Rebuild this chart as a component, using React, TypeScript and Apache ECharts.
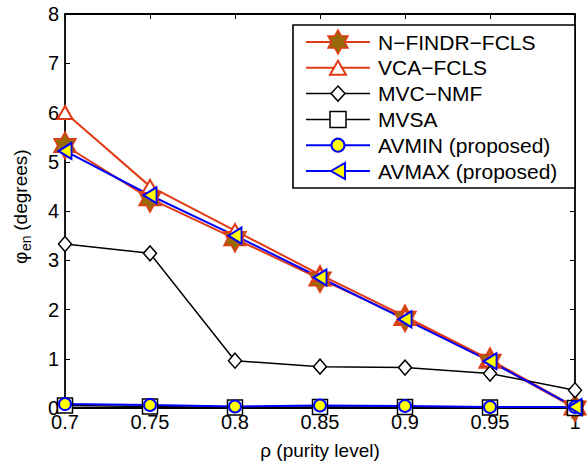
import React, { useEffect, useRef } from 'react';
import * as echarts from 'echarts';

const FONT = "'Liberation Sans', Arial, Helvetica, sans-serif";

const purity = [0.7, 0.75, 0.8, 0.85, 0.9, 0.95, 1.0];
const nfindrFcls = [5.33, 4.25, 3.44, 2.62, 1.82, 0.95, 0.0];
const vcaFcls = [6.0, 4.5, 3.6, 2.71, 1.86, 0.98, 0.02];
const mvcNmf = [3.33, 3.14, 0.96, 0.84, 0.82, 0.7, 0.36];
const mvsa = [0.05, 0.03, 0.01, 0.02, 0.02, 0.01, 0.0];
const avmin = [0.08, 0.06, 0.03, 0.05, 0.04, 0.02, 0.02];
const avmax = [5.22, 4.32, 3.5, 2.65, 1.8, 0.95, 0.02];

const seriesNames = [
  'N\u2212FINDR\u2212FCLS',
  'VCA\u2212FCLS',
  'MVC\u2212NMF',
  'MVSA',
  'AVMIN (proposed)',
  'AVMAX (proposed)',
];

const RED = '#E23A14';
const STAR_FILL = '#9A6A0A';
const BLUE = '#0000FF';
const YELLOW = '#FFFF00';

const HEX_PATH =
  'path://M0,-1 L0.2887,-0.5 L0.866,-0.5 L0.5774,0 L0.866,0.5 L0.2887,0.5 L0,1 L-0.2887,0.5 L-0.866,0.5 L-0.5774,0 L-0.866,-0.5 L-0.2887,-0.5 Z';

function pairs(ys: number[]) {
  return purity.map((x, i) => [x, ys[i]]);
}

function hexPoints(cx: number, cy: number, hw: number, hh: number) {
  const pts: number[][] = [];
  for (let k = 0; k < 12; k++) {
    const a = ((-90 + 30 * k) * Math.PI) / 180;
    const r = k % 2 === 0 ? 1 : 0.57735;
    pts.push([cx + (Math.cos(a) * r * hw) / 0.866, cy + Math.sin(a) * r * hh]);
  }
  return pts;
}

export default function App() {
  const ref = useRef<HTMLDivElement>(null);

  useEffect(() => {
    if (!ref.current) return;
    const chart = echarts.init(ref.current, undefined, { renderer: 'svg' });

    const mk = (
      name: string,
      ys: number[],
      color: string,
      lw: number,
      symbol: string,
      size: number | number[],
      fill: string,
      border: string,
      bw: number,
      rotate = 0
    ) => ({
      name,
      type: 'line',
      data: pairs(ys),
      symbol,
      symbolSize: size,
      symbolRotate: rotate,
      showAllSymbol: true,
      lineStyle: { color, width: lw },
      itemStyle: { color: fill, borderColor: border, borderWidth: bw },
      emphasis: { disabled: true },
      z: 3,
    });

    // legend graphic
    const lx0 = 306;
    const lx1 = 370;
    const lcx = 338;
    const rowY = (i: number) => 42 + i * 25.8;
    const legendEls: any[] = [
      {
        type: 'rect',
        shape: { x: 293, y: 25, width: 282, height: 163 },
        style: { fill: '#fff', stroke: '#000', lineWidth: 1.6 },
        z: 100,
      },
    ];
    const lineCols = [RED, RED, '#000', '#000', BLUE, BLUE];
    const lineW = [2, 2, 1.5, 1.5, 2, 2];
    seriesNames.forEach((n, i) => {
      const y = rowY(i);
      legendEls.push({
        type: 'line',
        shape: { x1: lx0, y1: y, x2: lx1, y2: y },
        style: { stroke: lineCols[i], lineWidth: lineW[i] },
        z: 101,
      });
      legendEls.push({
        type: 'text',
        x: 378,
        y: y,
        style: {
          text: n,
          fontSize: 21,
          fontFamily: FONT,
          fill: '#000',
          textAlign: 'left',
          textVerticalAlign: 'middle',
        },
        z: 101,
      });
    });
    // legend markers
    let y = rowY(0);
    legendEls.push({
      type: 'polygon',
      shape: { points: hexPoints(lcx, y, 10, 12) },
      style: { fill: STAR_FILL, stroke: RED, lineWidth: 1.5 },
      z: 102,
    });
    y = rowY(1);
    legendEls.push({
      type: 'polygon',
      shape: { points: [[lcx, y - 7], [lcx + 8, y + 7], [lcx - 8, y + 7]] },
      style: { fill: '#fff', stroke: RED, lineWidth: 2 },
      z: 102,
    });
    y = rowY(2);
    legendEls.push({
      type: 'polygon',
      shape: { points: [[lcx, y - 7.5], [lcx + 7, y], [lcx, y + 7.5], [lcx - 7, y]] },
      style: { fill: '#fff', stroke: '#000', lineWidth: 1.5 },
      z: 102,
    });
    y = rowY(3);
    legendEls.push({
      type: 'rect',
      shape: { x: lcx - 8, y: y - 8, width: 16, height: 16 },
      style: { fill: '#fff', stroke: '#000', lineWidth: 1.5 },
      z: 102,
    });
    y = rowY(4);
    legendEls.push({
      type: 'circle',
      shape: { cx: lcx, cy: y, r: 6.5 },
      style: { fill: YELLOW, stroke: BLUE, lineWidth: 2 },
      z: 102,
    });
    y = rowY(5);
    legendEls.push({
      type: 'polygon',
      shape: { points: [[lcx - 7, y], [lcx + 7, y - 8], [lcx + 7, y + 8]] },
      style: { fill: YELLOW, stroke: BLUE, lineWidth: 2 },
      z: 102,
    });

    const yName = {
      type: 'group',
      x: 20,
      y: 264,
      rotation: Math.PI / 2,
      children: [
        {
          type: 'text',
          x: 0,
          y: 0,
          style: { text: '\u03c6', fontSize: 19, fontFamily: FONT, fill: '#000', textAlign: 'left', textVerticalAlign: 'middle' },
        },
        {
          type: 'text',
          x: 13,
          y: 6,
          style: { text: 'en', fontSize: 14, fontFamily: FONT, fill: '#000', textAlign: 'left', textVerticalAlign: 'middle' },
        },
        {
          type: 'text',
          x: 28,
          y: 0,
          style: { text: ' (degrees)', fontSize: 19, fontFamily: FONT, fill: '#000', textAlign: 'left', textVerticalAlign: 'middle' },
        },
      ],
    };

    const axisCommon = {
      axisLine: { show: true, onZero: false, lineStyle: { color: '#000', width: 1.8 } },
      axisTick: { show: true, inside: true, length: 5, lineStyle: { color: '#000', width: 1 } },
      splitLine: { show: false },
    };

    chart.setOption({
      animation: false,
      backgroundColor: '#fff',
      grid: { left: 65, right: 12, top: 14, bottom: 58, containLabel: false },
      xAxis: [
        {
          type: 'value',
          min: 0.7,
          max: 1,
          interval: 0.05,
          position: 'bottom',
          ...axisCommon,
          axisLabel: {
            color: '#000',
            fontSize: 20,
            fontFamily: FONT,
            margin: 4,
            formatter: (v: number) => String(Math.round(v * 100) / 100),
          },
          name: '\u03c1 (purity level)',
          nameLocation: 'middle',
          nameGap: 33,
          nameTextStyle: { color: '#000', fontSize: 19, fontFamily: FONT },
        },
        {
          type: 'value',
          min: 0.7,
          max: 1,
          interval: 0.05,
          position: 'top',
          ...axisCommon,
          axisLabel: { show: false },
        },
      ],
      yAxis: [
        {
          type: 'value',
          min: 0,
          max: 8,
          interval: 1,
          position: 'left',
          ...axisCommon,
          axisLabel: { color: '#000', fontSize: 20, fontFamily: FONT, margin: 6 },
        },
        {
          type: 'value',
          min: 0,
          max: 8,
          interval: 1,
          position: 'right',
          ...axisCommon,
          axisLabel: { show: false },
        },
      ],
      series: [
        mk(seriesNames[0], nfindrFcls, RED, 2, HEX_PATH, [22, 27], STAR_FILL, RED, 1.5),
        mk(seriesNames[1], vcaFcls, RED, 2, 'triangle', [15, 13], '#fff', RED, 2),
        mk(seriesNames[2], mvcNmf, '#000', 1.5, 'diamond', [13, 15], '#fff', '#000', 1.5),
        mk(seriesNames[3], mvsa, '#000', 1.5, 'rect', [15, 15], '#fff', '#000', 1.5),
        mk(seriesNames[4], avmin, BLUE, 2, 'circle', 12, YELLOW, BLUE, 2),
        mk(seriesNames[5], avmax, BLUE, 2, 'triangle', [16, 13], YELLOW, BLUE, 2, 90),
      ],
      graphic: [yName, ...legendEls],
    });

    return () => chart.dispose();
  }, []);

  return <div ref={ref} style={{ width: 587, height: 466, position: 'absolute', left: 0, top: 0 }} />;
}
